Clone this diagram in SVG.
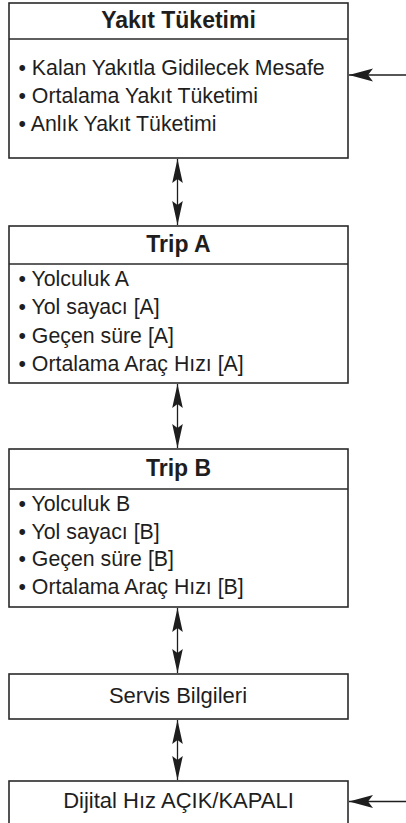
<svg xmlns="http://www.w3.org/2000/svg" width="406" height="823" viewBox="0 0 406 823">
<style>
.box{fill:#fff;stroke:#2a2a2a;stroke-width:1.6}
.sep{stroke:#2a2a2a;stroke-width:1.4}
.title{font-family:"Liberation Sans",Arial,sans-serif;font-weight:bold;font-size:23px;fill:#1e1e1e;text-anchor:middle}
.item{font-family:"Liberation Sans",Arial,sans-serif;font-size:21.3px;fill:#1e1e1e}
.label{font-family:"Liberation Sans",Arial,sans-serif;font-size:22px;fill:#1e1e1e;text-anchor:middle}
.conn{stroke:#1e1e1e;stroke-width:1.3;fill:none}
</style>
<defs>
<marker id="hv" markerUnits="userSpaceOnUse" viewBox="0 -7 25 14" refX="24" refY="0" markerWidth="25" markerHeight="14" orient="auto-start-reverse">
<path d="M0,-5.3 L24,0 L0,5.3 L4,0 z" fill="#1e1e1e"/>
</marker>
<marker id="hh" markerUnits="userSpaceOnUse" viewBox="0 -8 26 16" refX="24" refY="0" markerWidth="26" markerHeight="16" orient="auto">
<path d="M0,-6.5 L24,0 L0,6.5 L5,0 z" fill="#1e1e1e"/>
</marker>
</defs>
<g id="yakit">
<rect class="box" x="9" y="3" width="339" height="155"/>
<line class="sep" x1="9" y1="39" x2="348" y2="39"/>
<text class="title" x="178.5" y="28">Yakıt Tüketimi</text>
<text class="item" x="18.5" y="75">• Kalan Yakıtla Gidilecek Mesafe</text>
<text class="item" x="18.5" y="103">• Ortalama Yakıt Tüketimi</text>
<text class="item" x="18.5" y="131">• Anlık Yakıt Tüketimi</text>
</g>
<g id="tripA">
<rect class="box" x="9" y="226" width="339" height="157"/>
<line class="sep" x1="9" y1="264" x2="348" y2="264"/>
<text class="title" x="178.5" y="252">Trip A</text>
<text class="item" x="18.5" y="286">• Yolculuk A</text>
<text class="item" x="18.5" y="314">• Yol sayacı [A]</text>
<text class="item" x="18.5" y="342.5">• Geçen süre [A]</text>
<text class="item" x="18.5" y="370.5">• Ortalama Araç Hızı [A]</text>
</g>
<g id="tripB">
<rect class="box" x="9" y="449" width="339" height="158"/>
<line class="sep" x1="9" y1="489" x2="348" y2="489"/>
<text class="title" x="178.5" y="476">Trip B</text>
<text class="item" x="18.5" y="510.5">• Yolculuk B</text>
<text class="item" x="18.5" y="538.5">• Yol sayacı [B]</text>
<text class="item" x="18.5" y="566">• Geçen süre [B]</text>
<text class="item" x="18.5" y="594">• Ortalama Araç Hızı [B]</text>
</g>
<g id="servis">
<rect class="box" x="9" y="674" width="339" height="45"/>
<text class="label" x="178" y="703">Servis Bilgileri</text>
</g>
<g id="dijital">
<rect class="box" x="9" y="781" width="339" height="60"/>
<text class="label" x="178.5" y="808">Dijital Hız AÇIK/KAPALI</text>
</g>
<g id="connectors">
<line class="conn" x1="177.5" y1="159" x2="177.5" y2="225" marker-start="url(#hv)" marker-end="url(#hv)"/>
<line class="conn" x1="177.5" y1="384" x2="177.5" y2="448" marker-start="url(#hv)" marker-end="url(#hv)"/>
<line class="conn" x1="177.5" y1="608" x2="177.5" y2="673" marker-start="url(#hv)" marker-end="url(#hv)"/>
<line class="conn" x1="177.5" y1="720" x2="177.5" y2="780" marker-start="url(#hv)" marker-end="url(#hv)"/>
<line class="conn" x1="406" y1="75" x2="349" y2="75" marker-end="url(#hh)"/>
<line class="conn" x1="406" y1="801.5" x2="349" y2="801.5" marker-end="url(#hh)"/>
</g>
</svg>
